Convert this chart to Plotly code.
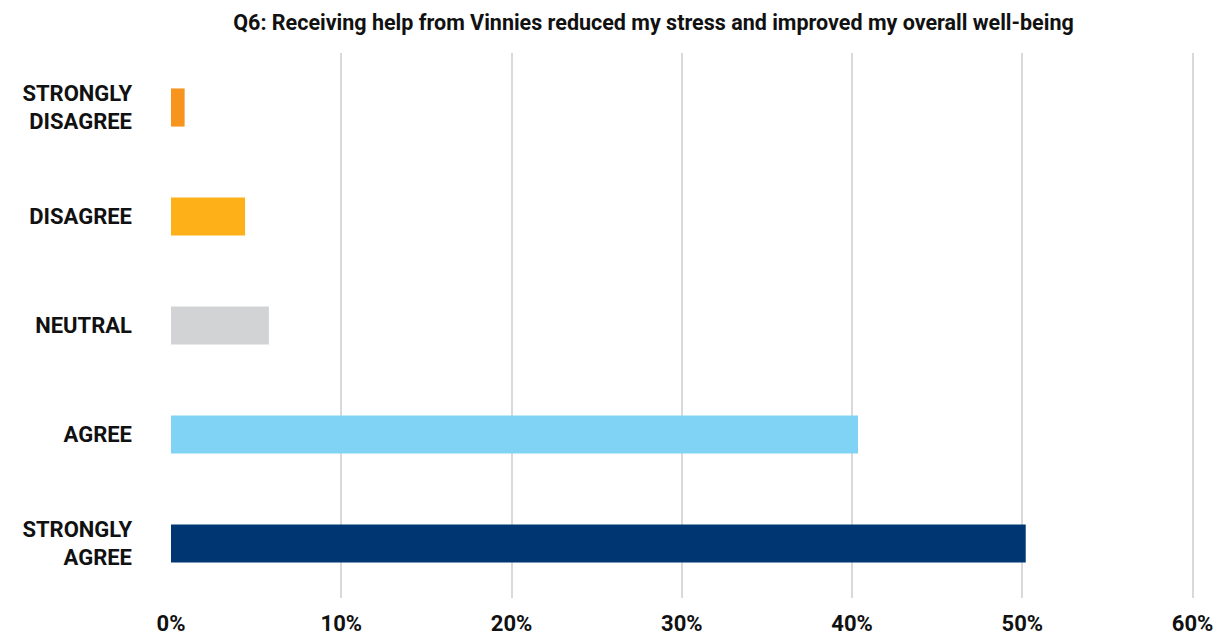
import plotly.graph_objects as go

categories = ["STRONGLY<br>DISAGREE", "DISAGREE", "NEUTRAL", "AGREE", "STRONGLY<br>AGREE"]
values = [0.8, 4.35, 5.75, 40.35, 50.2]
colors = ["#F7941D", "#FDB018", "#D1D3D4", "#81D3F6", "#003772"]
tick_vals = [0, 10, 20, 30, 40, 50, 60]
tick_text = ["0%", "10%", "20%", "30%", "40%", "50%", "60%"]
title = "Q6: Receiving help from Vinnies reduced my stress and improved my overall well-being"

font_family = "Roboto, Arial, sans-serif"

fig = go.Figure(
    go.Bar(
        x=values,
        y=categories,
        orientation="h",
        marker=dict(color=colors, line=dict(width=0)),
        width=0.35,
        hoverinfo="skip",
    )
)

fig.update_layout(
    width=1217,
    height=636,
    margin=dict(l=171, r=21, t=53, b=38),
    paper_bgcolor="white",
    plot_bgcolor="white",
    showlegend=False,
    title=dict(
        text="<b>" + title + "</b>",
        x=0.537,
        xanchor="center",
        y=0.965,
        yanchor="middle",
        font=dict(family=font_family, size=21.5, color="#111111"),
    ),
    xaxis=dict(
        # small headroom past 60% so the last gridline is drawn
        range=[0, 60.2],
        tickvals=tick_vals,
        ticktext=["<b>" + t + "</b>" for t in tick_text],
        showgrid=True,
        gridcolor="#D9D9D9",
        gridwidth=1.5,
        zeroline=False,
        showline=False,
        ticks="",
        automargin=False,
        ticklabelstandoff=10,
        tickfont=dict(family=font_family, size=22, color="#111111"),
        fixedrange=True,
    ),
    yaxis=dict(
        categoryorder="array",
        categoryarray=categories[::-1],
        tickvals=categories,
        ticktext=["<b>" + c + "</b>" for c in categories],
        showgrid=False,
        ticks="",
        automargin=False,
        ticklabelstandoff=38,
        tickfont=dict(family=font_family, size=22, color="#111111"),
        fixedrange=True,
    ),
)

fig.write_html("out.html")
